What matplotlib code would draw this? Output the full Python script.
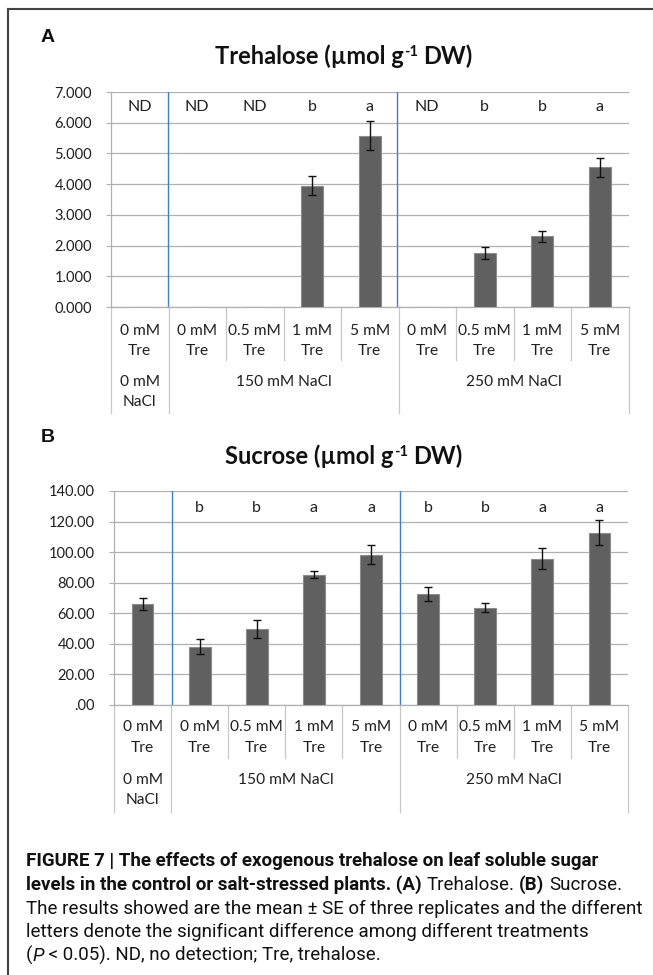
import matplotlib
matplotlib.use('Agg')
import matplotlib.pyplot as plt
from matplotlib.lines import Line2D
import numpy as np

# data
tre_labels = ['0 mM', '0 mM', '0.5 mM', '1 mM', '5 mM', '0 mM', '0.5 mM', '1 mM', '5 mM']
nacl_groups = ['0 mM\nNaCl', '150 mM NaCl', '250 mM NaCl']
group_spans = [(0, 0), (1, 4), (5, 8)]

trehalose = [0, 0, 0, 3.95, 5.58, 0, 1.75, 2.30, 4.55]
trehalose_se = [0, 0, 0, 0.31, 0.48, 0, 0.20, 0.17, 0.31]
trehalose_letters = ['ND', 'ND', 'ND', 'b', 'a', 'ND', 'b', 'b', 'a']
trehalose_ticks = ['0.000', '1.000', '2.000', '3.000', '4.000', '5.000', '6.000', '7.000']

sucrose = [66.3, 38.2, 49.8, 85.3, 98.4, 72.6, 63.7, 95.8, 112.8]
sucrose_se = [4.0, 5.0, 5.8, 2.5, 6.0, 4.4, 2.8, 7.0, 8.4]
sucrose_letters = ['', 'b', 'b', 'a', 'a', 'b', 'b', 'a', 'a']
sucrose_ticks = ['.00', '20.00', '40.00', '60.00', '80.00', '100.00', '120.00', '140.00']

W, H = 653, 975
CHART_FONT = ['Lato', 'DejaVu Sans']
CAP_FONT = ['Roboto', 'Liberation Sans', 'DejaVu Sans']
GRID = '#b0b0b0'
TXT = '#202020'

fig = plt.figure(figsize=(W / 100, H / 100), dpi=100)
renderer = fig.canvas.get_renderer()


def fy(py):
    return 1 - py / H


def text_width(s, size, family, **kw):
    t = fig.text(0, 0, s, fontsize=size, family=family, **kw)
    w = t.get_window_extent(renderer=renderer).width
    t.remove()
    return w


def rich_text(x, y, pieces, family, ha='left', color='#111111'):
    # pieces: (text, size, raise_px, kwargs); x, y = start (or centre) and baseline in px
    widths = []
    for s, size, dy, kw in pieces:
        if s.strip() == '':
            widths.append(text_width('x x', size, family, **kw) - text_width('xx', size, family, **kw))
        else:
            widths.append(text_width(s, size, family, **kw))
    if ha == 'center':
        x -= sum(widths) / 2
    for (s, size, dy, kw), w in zip(pieces, widths):
        if s.strip():
            fig.text(x / W, fy(y - dy), s, fontsize=size, family=family, va='baseline',
                     ha='left', color=color, **kw)
        x += w


def draw_panel(left, right, top, bottom, vals, errs, letters, ymax, ticks, letter_y, rows, blue):
    ax = fig.add_axes([left / W, fy(bottom), (right - left) / W, (bottom - top) / H])
    x = np.arange(len(vals))
    vals = np.array(vals, dtype=float)
    errs = np.array(errs, dtype=float)
    ax.bar(x, vals, width=0.38, color='#606060', edgecolor='#8c8c8c', linewidth=0.8, zorder=3)
    m = vals > 0
    ax.errorbar(x[m], vals[m], yerr=errs[m], fmt='none', ecolor='#111111',
                elinewidth=1.0, capsize=2.8, capthick=1.0, zorder=4)
    ax.set_xlim(-0.5, len(vals) - 0.5)
    ax.set_ylim(0, ymax)
    ax.set_yticks(np.linspace(0, ymax, len(ticks)))
    ax.set_yticklabels(ticks, fontsize=10.5, color=TXT, family=CHART_FONT)
    ax.tick_params(axis='y', length=3.6, width=0.8, color=GRID, pad=10)
    ax.set_xticks([])
    ax.grid(axis='y', color=GRID, lw=0.9, zorder=0)
    for s in ['top', 'right']:
        ax.spines[s].set_visible(False)
    for s in ['left', 'bottom']:
        ax.spines[s].set_color(GRID)
        ax.spines[s].set_linewidth(0.9)
    ax.set_axisbelow(True)
    for b in blue:
        ax.axvline(b, color='#3f7fd0', lw=1.0, zorder=2)

    h = bottom - top

    def ay(py):
        return (bottom - py) / h
    tr = ax.get_xaxis_transform()
    for i, t in enumerate(letters):
        if t:
            ax.text(i, ay(letter_y), t, transform=tr, ha='center', va='center',
                    fontsize=11.5, color=TXT, family=CHART_FONT)
    for i, t in enumerate(tre_labels):
        ax.text(i, ay(rows[0]), t, transform=tr, ha='center', va='center',
                fontsize=11.2, color=TXT, family=CHART_FONT)
        ax.text(i, ay(rows[1]), 'Tre', transform=tr, ha='center', va='center',
                fontsize=11.2, color=TXT, family=CHART_FONT)
    group_edges = [-0.5, 0.5, 4.5, 8.5]
    for b in np.arange(-0.5, len(vals), 1.0):
        end = rows[5] if b in group_edges else rows[4]
        ax.plot([b, b], [0, ay(end)], transform=tr, color='#c8c8c8', lw=0.9, clip_on=False)
    for name, (a, b) in zip(nacl_groups, group_spans):
        c = (a + b) / 2
        for j, ln in enumerate(name.split('\n')):
            ax.text(c, ay(rows[2 + j]), ln, transform=tr, ha='center', va='center',
                    fontsize=11.2, color=TXT, family=CHART_FONT)
    return ax


draw_panel(111, 628.5, 92, 307, trehalose, trehalose_se, trehalose_letters, 7.0,
           trehalose_ticks, 107, [331, 351, 382, 402, 360, 413], [0.49, 4.47])
draw_panel(114, 628, 491, 705, sucrose, sucrose_se, sucrose_letters, 140.0,
           sucrose_ticks, 508, [727, 748, 780, 800, 758, 812], [0.52, 4.5])

# panel letters and titles
fig.text(41 / W, fy(38), 'A', fontsize=14, fontweight='bold', family=['Liberation Sans'],
         va='center', ha='left', color='#111111')
fig.text(41 / W, fy(437), 'B', fontsize=14, fontweight='bold', family=['Liberation Sans'],
         va='center', ha='left', color='#111111')

TB = {'fontweight': 'bold'}
for name, base in [('Trehalose', 64), ('Sucrose', 464)]:
    rich_text(344, base, [(name + ' (µmol g', 17, 0, TB), ('-1', 10.5, 8, TB),
                          (' ', 17, 0, TB), ('DW)', 17, 0, TB)], CHART_FONT, ha='center')

# outer frame
fig.add_artist(Line2D([8 / W, 8 / W], [0, fy(9)], transform=fig.transFigure, color='#444444', lw=1.5))
fig.add_artist(Line2D([8 / W, 1], [fy(9), fy(9)], transform=fig.transFigure, color='#444444', lw=1.5))

# caption with mixed styles
CS = 13.5
B = {'fontweight': 'bold'}
R = {'fontweight': 'normal'}
I = {'fontweight': 'normal', 'style': 'italic'}
rich_text(26, 866, [('FIGURE 7 | The effects of exogenous trehalose on leaf soluble sugar', CS, 0, B)], CAP_FONT)
rich_text(26, 890, [('levels in the control or salt-stressed plants. (A)', CS, 0, B), (' ', CS, 0, R),
                    ('Trehalose.', CS, 0, R), (' ', CS, 0, R), ('(B)', CS, 0, B), (' ', CS, 0, R),
                    ('Sucrose.', CS, 0, R)], CAP_FONT)
rich_text(26, 914, [('The results showed are the mean ± SE of three replicates and the different', CS, 0, R)], CAP_FONT)
rich_text(26, 937, [('letters denote the significant difference among different treatments', CS, 0, R)], CAP_FONT)
rich_text(26, 961, [('(', CS, 0, R), ('P', CS, 0, I), (' < 0.05). ND, no detection; Tre, trehalose.', CS, 0, R)], CAP_FONT)

fig.savefig('out.png', dpi=100)
